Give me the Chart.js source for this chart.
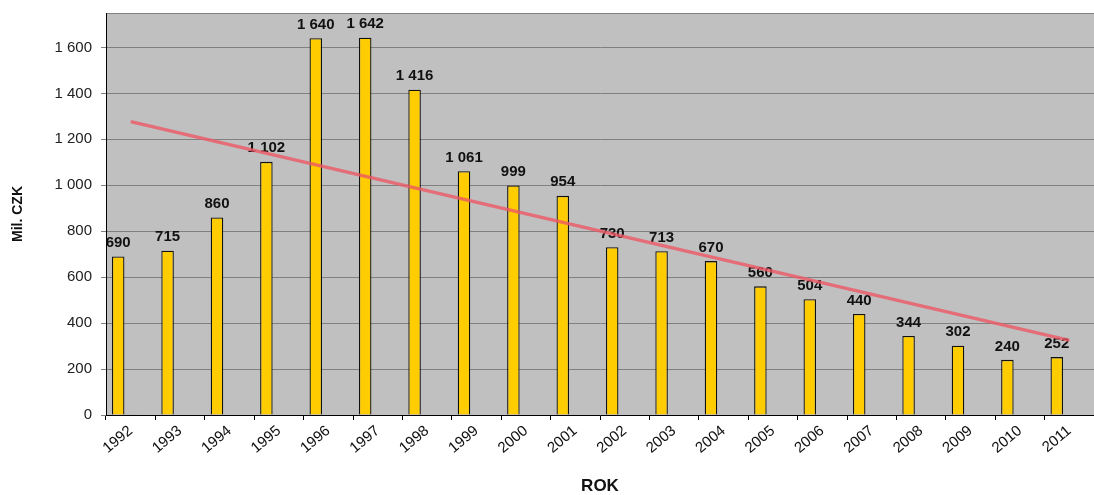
<!DOCTYPE html>
<html>
<head>
<meta charset="utf-8">
<script src="https://cdn.jsdelivr.net/npm/chart.js@4/dist/chart.umd.min.js"></script>
<style>
html,body{margin:0;padding:0;background:#fff;}
#wrap{width:1094px;height:495px;}
</style>
</head>
<body>
<div id="wrap"><canvas id="c" width="1094" height="495"></canvas></div>
<script>
const years = ['1992','1993','1994','1995','1996','1997','1998','1999','2000','2001','2002','2003','2004','2005','2006','2007','2008','2009','2010','2011'];
const values = [690,715,860,1102,1640,1642,1416,1061,999,954,730,713,670,560,504,440,344,302,240,252];
const seriesB = [2,null,null,null,null,null,null,null,null,null,null,null,null,null,null,null,null,null,null,null];
const seriesC = [2,null,null,null,null,null,null,null,null,null,null,null,null,null,null,null,null,null,null,null];
const trend = [1277,null,null,null,null,null,null,null,null,null,null,null,null,null,null,null,null,null,null,325];
const yTicks = [0,200,400,600,800,1000,1200,1400,1600];
const yMax = 1750;
const yTitle = 'Mil. CZK';
const xTitle = 'ROK';

const FONT = "'Liberation Sans', Arial, sans-serif";
const fmt = v => String(v).replace(/\B(?=(\d{3})+(?!\d))/g, ' ');

const bgPlugin = {
  id: 'plotBg',
  beforeDraw(chart) {
    const {ctx, chartArea: a} = chart;
    ctx.save();
    ctx.fillStyle = '#C0C0C0';
    ctx.fillRect(a.left, a.top, a.right - a.left, a.bottom - a.top);
    ctx.strokeStyle = '#808080';
    ctx.lineWidth = 1;
    ctx.beginPath();
    ctx.moveTo(a.left, a.top + 0.5);
    ctx.lineTo(a.right, a.top + 0.5);
    ctx.stroke();
    ctx.restore();
  }
};

const labelPlugin = {
  id: 'barLabels',
  afterDatasetDraw(chart, args) {
    if (args.index !== 0) return;
    const {ctx} = chart;
    const meta = chart.getDatasetMeta(0);
    ctx.save();
    ctx.font = 'bold 15px ' + FONT;
    ctx.fillStyle = '#111';
    ctx.textAlign = 'center';
    ctx.textBaseline = 'bottom';
    meta.data.forEach((el, i) => {
      ctx.fillText(fmt(values[i]), el.x, el.y - 6);
    });
    ctx.restore();
  }
};

new Chart(document.getElementById('c'), {
  type: 'bar',
  data: {
    labels: years,
    datasets: [
      {
        data: values,
        backgroundColor: '#FFCC00',
        borderColor: '#111111',
        borderWidth: 1.3,
        order: 1
      },
      {
        data: seriesB,
        backgroundColor: '#3366CC',
        borderWidth: 0,
        order: 2
      },
      {
        data: seriesC,
        backgroundColor: '#99CC33',
        borderWidth: 0,
        order: 3
      },
      {
        type: 'line',
        data: trend,
        spanGaps: true,
        borderColor: 'rgba(236,88,100,0.8)',
        borderWidth: 3.5,
        pointRadius: 0,
        fill: false,
        order: 0
      }
    ]
  },
  options: {
    responsive: false,
    animation: false,
    devicePixelRatio: 1,
    layout: {padding: {top: 13, right: 0, left: 0, bottom: 0}},
    plugins: {
      legend: {display: false},
      tooltip: {enabled: false}
    },
    datasets: {
      bar: {categoryPercentage: 0.76, barPercentage: 1.0}
    },
    scales: {
      x: {
        offset: true,
        grid: {
          display: true,
          drawOnChartArea: false,
          drawTicks: true,
          tickLength: 5,
          color: '#000',
          offset: true
        },
        border: {display: true, color: '#000', width: 1},
        ticks: {
          color: '#111',
          font: {family: FONT, size: 15},
          minRotation: 40,
          maxRotation: 40,
          padding: 2,
          autoSkip: false
        },
        title: {
          display: true,
          text: xTitle,
          color: '#111',
          font: {family: FONT, size: 17, weight: 'bold', lineHeight: 1},
          padding: {top: 0, bottom: 0}
        },
        afterFit(s) { s.height = 80; s.paddingLeft = 0; s.paddingRight = 0; }
      },
      y: {
        min: 0,
        max: yMax,
        afterBuildTicks(s) { s.ticks = yTicks.map(v => ({value: v})); },
        grid: {
          color: '#808080',
          lineWidth: 1,
          tickLength: 5,
          tickColor: '#808080'
        },
        border: {display: true, color: '#000', width: 1},
        ticks: {
          color: '#222',
          font: {family: FONT, size: 15},
          padding: 9,
          callback: v => fmt(v)
        },
        title: {
          display: true,
          text: yTitle,
          color: '#111',
          font: {family: FONT, size: 14, weight: 'bold', lineHeight: 1.2},
          padding: {top: 10, bottom: 0}
        },
        afterFit(s) { s.width = 106; s.paddingTop = 0; s.paddingBottom = 0; }
      }
    }
  },
  plugins: [bgPlugin, labelPlugin]
});
</script>
</body>
</html>
